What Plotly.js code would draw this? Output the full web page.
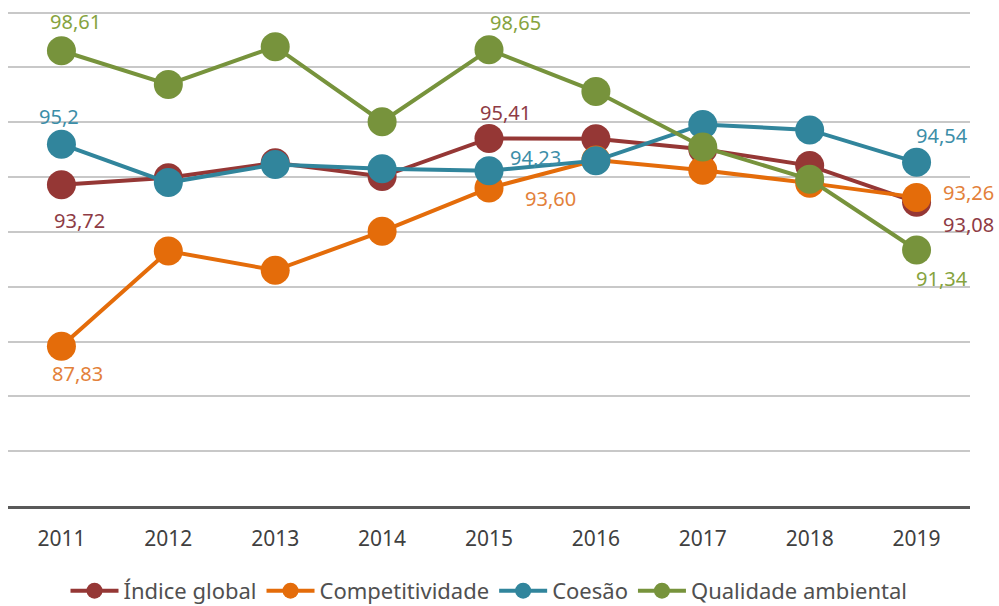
<!DOCTYPE html>
<html>
<head>
<meta charset="utf-8">
<script src="https://cdn.plot.ly/plotly-3.0.1.min.js"></script>
<style>html,body{margin:0;padding:0;background:#fff;}#chart{width:999px;height:606px;}</style>
</head>
<body>
<div id="chart"></div>
<script>
const years = ['2011','2012','2013','2014','2015','2016','2017','2018','2019'];
const seriesNames = ['Índice global','Competitividade','Coesão','Qualidade ambiental'];
const indiceGlobal = [93.72, 93.98, 94.52, 94.02, 95.41, 95.40, 95.02, 94.42, 93.08];
const competitividade = [87.83, 91.30, 90.60, 92.02, 93.60, 94.62, 94.25, 93.78, 93.26];
const coesao = [95.20, 93.80, 94.46, 94.30, 94.23, 94.60, 95.92, 95.72, 94.54];
const qualidadeAmbiental = [98.61, 97.38, 98.76, 96.02, 98.65, 97.12, 95.10, 93.92, 91.34];
// labelled points: [series index, year index, text]
const labelPoints = [
  [3, 0, '98,61'], [2, 0, '95,2'], [0, 0, '93,72'], [1, 0, '87,83'],
  [0, 4, '95,41'], [3, 4, '98,65'], [2, 4, '94,23'], [1, 4, '93,60'],
  [2, 8, '94,54'], [1, 8, '93,26'], [0, 8, '93,08'], [3, 8, '91,34']
];

const allSeries = [indiceGlobal, competitividade, coesao, qualidadeAmbiental];
const colors = ['#953735', '#e46c0a', '#31859c', '#77933c'];
const labelColors = ['#8e3b45', '#e3813a', '#3c8ea8', '#86a33e'];
// offsets (px) for each label, same order as labelPoints
const labelOffsets = [
  [14, 29], [-2, 28], [18, -36], [16, -27],
  [16, 26], [26, 27], [46, 13], [61, -10],
  [25, 27], [52, 5], [52, -22], [25, -28]
];

const traces = allSeries.map((vals, i) => ({
  type: 'scatter', mode: 'lines+markers', name: seriesNames[i],
  x: years, y: vals,
  line: {color: colors[i], width: 4},
  marker: {color: colors[i], size: 29},
  cliponaxis: false
}));

const annotations = labelPoints.map((p, k) => ({
  xref: 'x', yref: 'y', x: p[1], y: allSeries[p[0]][p[1]],
  text: p[2], showarrow: false,
  xanchor: 'center', yanchor: 'middle',
  xshift: labelOffsets[k][0], yshift: labelOffsets[k][1],
  font: {family: 'Noto Sans, sans-serif', size: 20, color: labelColors[p[0]]}
}));

const layout = {
  width: 999, height: 606,
  margin: {l: 8, r: 29, t: 11, b: 100, autoexpand: false},
  paper_bgcolor: '#fff', plot_bgcolor: '#fff',
  showlegend: true,
  legend: {orientation: 'h', x: 0.5, xanchor: 'center', yref: 'container', y: 0.025, yanchor: 'middle',
    itemwidth: 48,
    font: {family: 'Noto Sans, sans-serif', size: 22, color: '#505050'}, traceorder: 'normal'},
  xaxis: {type: 'category', range: [-0.5, 8.5], showgrid: false, zeroline: false,
    showline: true, linecolor: '#595959', linewidth: 3,
    ticks: '', ticklabelstandoff: 12,
    tickfont: {family: 'Noto Sans, sans-serif', size: 21, color: '#404040'}},
  yaxis: {range: [82, 100.06], dtick: 2, showticklabels: false, zeroline: false,
    showgrid: true, gridcolor: '#c8c8c8', gridwidth: 2, showline: false},
  annotations: annotations
};

Plotly.newPlot('chart', traces, layout, {displayModeBar: false, staticPlot: true});
</script>
</body>
</html>
